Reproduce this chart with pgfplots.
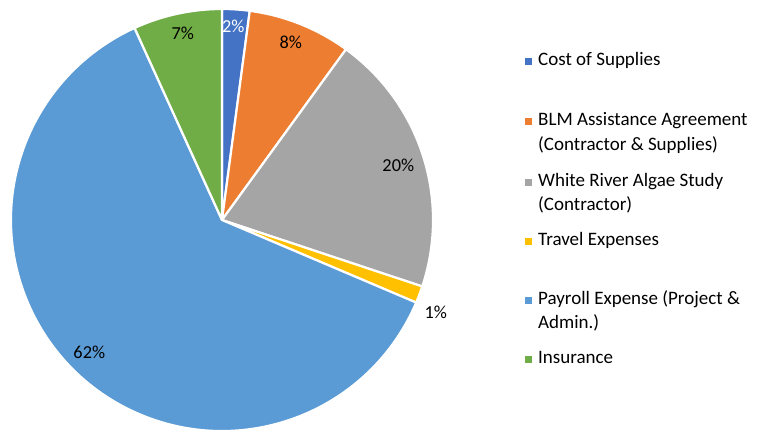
\documentclass[border=0pt]{standalone}
\usepackage{pgfplots}
\pgfplotsset{compat=1.18}
\usepackage{pgfplotstable}
\usepackage{fontspec}
\setmainfont{Carlito}
\definecolor{cSup}{HTML}{4472C4}
\definecolor{cBLM}{HTML}{ED7D31}
\definecolor{cWR}{HTML}{A5A5A5}
\definecolor{cTrv}{HTML}{FFC000}
\definecolor{cPay}{HTML}{5B9BD5}
\definecolor{cIns}{HTML}{70AD47}
% slice shares (percent), clockwise from 12 o'clock
\pgfplotstableread{
value color
2.1  cSup
7.9  cBLM
20.1 cWR
1.3  cTrv
61.8 cPay
6.8  cIns
}\piedata
\begin{document}
\begin{tikzpicture}
\path[use as bounding box] (0,0) rectangle (766pt,432pt);
\begin{axis}[at={(0,0)}, anchor=south west, x=1pt, y=1pt,
  xmin=0, xmax=766, ymin=0, ymax=432, hide axis, clip=false]
\addplot[draw=none] coordinates {(0,0) (766,432)};
\pgfplotsextra{
  \pgfplotstablegetrowsof{\piedata}\pgfmathtruncatemacro\last{\pgfplotsretval-1}
  \xdef\curang{90}
  \foreach \i in {0,...,\last}{
    \pgfplotstablegetelem{\i}{value}\of\piedata \let\v\pgfplotsretval
    \pgfplotstablegetelem{\i}{color}\of\piedata \let\c\pgfplotsretval
    \pgfmathsetmacro\endang{\curang-3.6*\v}
    \fill[\c, draw=white, line width=2.2pt, line join=round]
      (axis cs:222,212) -- ++(\curang:211pt) arc[start angle=\curang, end angle=\endang, radius=211pt] -- cycle;
    \xdef\curang{\endang}
  }
}
% percentage labels
\begin{scope}[every node/.style={font=\fontsize{18.3}{22}\selectfont, inner sep=0pt}]
\node[white] at (axis cs:233.3,405.3) {2\%};
\node at (axis cs:290.7,389.7) {8\%};
\node at (axis cs:398.3,266.3) {20\%};
\node at (axis cs:435.7,119.7) {1\%};
\node at (axis cs:89.3,79.7) {62\%};
\node at (axis cs:182.7,398.7) {7\%};
\end{scope}
% legend
\begin{scope}[every node/.style={font=\fontsize{19}{22}\selectfont, inner sep=0pt, anchor=base west}]
\fill[cSup] (axis cs:525,373.5) rectangle (axis cs:532,366.5);
\node at (axis cs:538,366) {Cost of Supplies};
\fill[cBLM] (axis cs:525,313.5) rectangle (axis cs:532,306.5);
\node at (axis cs:538,306) {BLM Assistance Agreement};
\node at (axis cs:538,282) {(Contractor \& Supplies)};
\fill[cWR] (axis cs:525,253.5) rectangle (axis cs:532,246.5);
\node at (axis cs:538,246) {White River Algae Study};
\node at (axis cs:538,222) {(Contractor)};
\fill[cTrv] (axis cs:525,194.5) rectangle (axis cs:532,187.5);
\node at (axis cs:538,187) {Travel Expenses};
\fill[cPay] (axis cs:525,135.5) rectangle (axis cs:532,128.5);
\node at (axis cs:538,128) {Payroll Expense (Project \&};
\node at (axis cs:538,104) {Admin.)};
\fill[cIns] (axis cs:525,76.5) rectangle (axis cs:532,69.5);
\node at (axis cs:538,69) {Insurance};
\end{scope}
\end{axis}
\end{tikzpicture}
\end{document}
